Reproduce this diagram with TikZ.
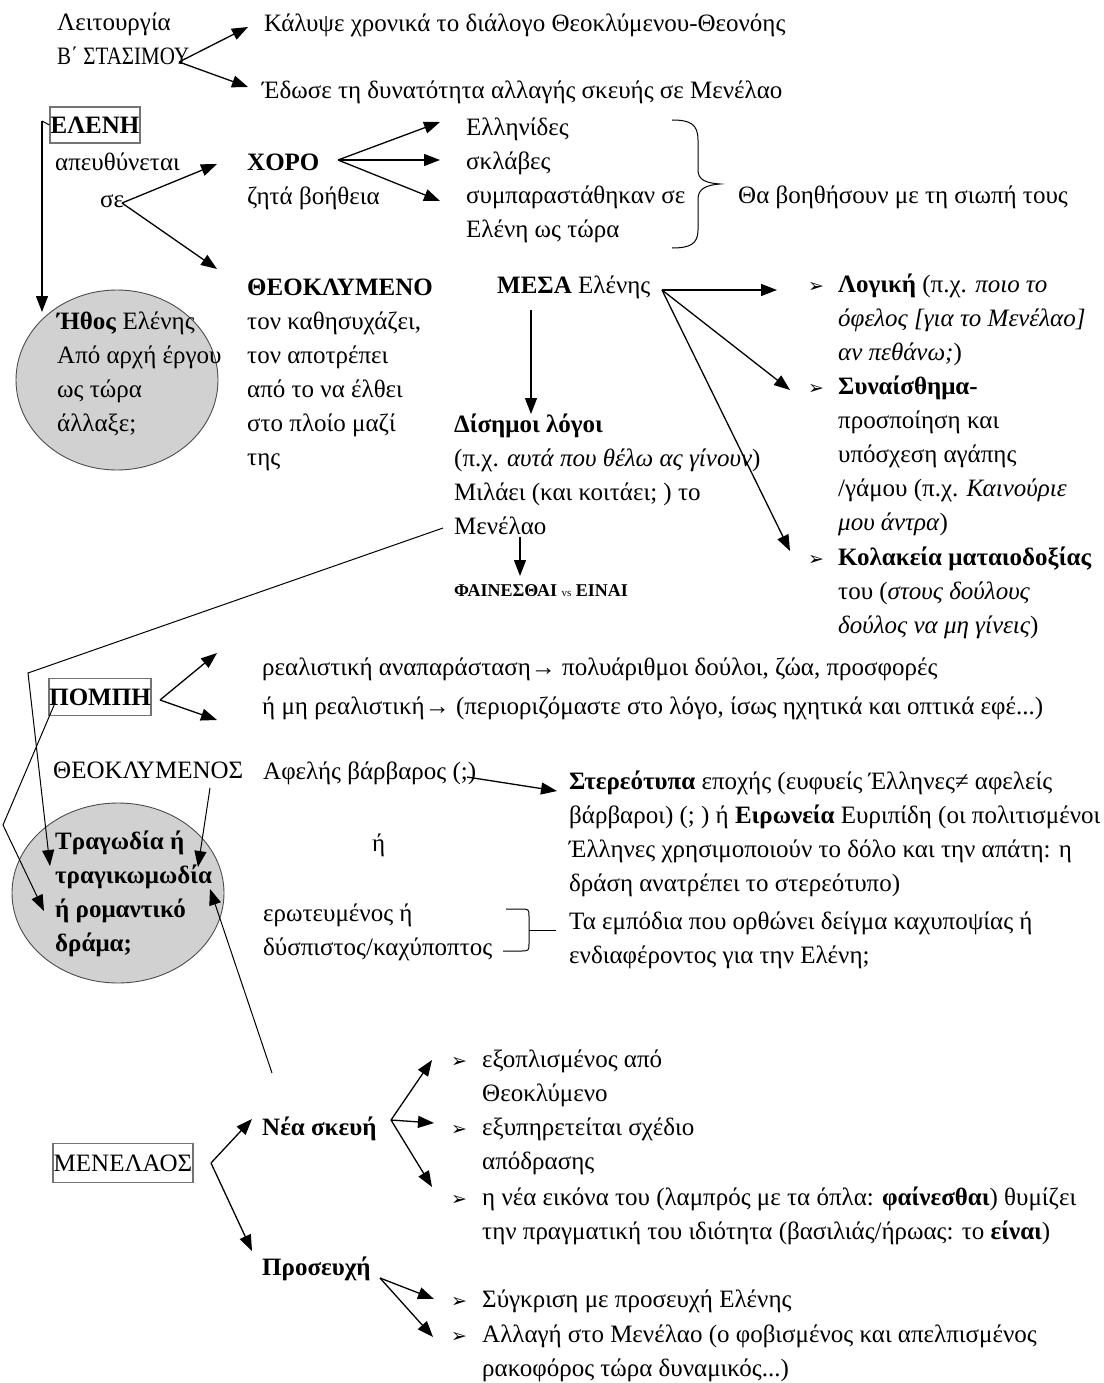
\documentclass[tikz,border=0pt]{standalone}
\usepackage{fontspec}
\setmainfont{Liberation Serif}
\newfontfamily\symfont{DejaVu Sans}
\usetikzlibrary{arrows.meta,shapes.geometric}

\newcommand\mainsize{\fontsize{25}{34}\selectfont}
\newcommand\smallsize{\fontsize{18}{34}\selectfont}
\newcommand\bulsize{\symfont\fontsize{19}{34}\selectfont}
% fixed-height strut so the first baseline sits 23.8pt below the node top
\newcommand\sr{\rule{0pt}{23.8pt}}

\begin{document}
\begin{tikzpicture}[x=1pt,y=-1pt,
  txt/.style={anchor=north west,inner sep=0pt,align=left,yshift=23.8pt,
              font=\mainsize,execute at begin node={\sr}},
  bul/.style={txt,font=\bulsize},
  framed/.style={draw=black!55,line width=1.5pt,inner xsep=0.5pt,inner ysep=0pt,
                 font=\mainsize},
  ell/.style={ellipse,draw=black!70,fill=black!18,line width=0.9pt,inner sep=0pt},
  arr/.style={-{Triangle[length=16pt,width=12pt]},line width=1.3pt},
  ln/.style={line width=1pt}]

\useasboundingbox (0,0) rectangle (1103,1383);
\fill[white] (0,0) rectangle (1103,1383);

% ---- shaded ellipses (drawn first, text sits on top) ----
\node[ell,minimum width=202pt,minimum height=180pt] (ethos) at (117,380) {};
\node[ell,minimum width=212pt,minimum height=180pt] (genre) at (118,893) {};

% ---- framed keywords ----
\node[framed,minimum width=80pt,minimum height=36pt] (eleni) at (95,125) {\textbf{ΕΛΕΝΗ}};
\node[framed,minimum width=94pt,minimum height=37pt] (pompi) at (100,697) {\textbf{ΠΟΜΠΗ}};
\node[framed,minimum width=134pt,minimum height=39pt] (men) at (123,1163) {ΜΕΝΕΛΑΟΣ};

% ---- text blocks ----
\node[txt] (lit) at (57,30) {\sr Λειτουργία\\\scalebox{0.84}[1]{Β΄ ΣΤΑΣΙΜΟΥ}};
\node[txt] (kal) at (264,31) {Κάλυψε χρονικά το διάλογο Θεοκλύμενου-Θεονόης};
\node[txt] (edo) at (262,98) {Έδωσε τη δυνατότητα αλλαγής σκευής σε Μενέλαο};
\node[txt] (apeuth) at (55,170) {απευθύνεται};
\node[txt] (se) at (100,207) {σε};
\node[txt] (xoro) at (247,170) {\sr\textbf{ΧΟΡΟ}\\ζητά βοήθεια};
\node[txt] (ellin) at (466,135) {\sr Ελληνίδες\\σκλάβες\\συμπαραστάθηκαν σε\\Ελένη ως τώρα};
\node[txt] (siopi) at (738,203) {Θα βοηθήσουν με τη σιωπή τους};
\node[txt] (theo) at (247,295) {\sr\textbf{ΘΕΟΚΛΥΜΕΝΟ}\\τον καθησυχάζει,\\τον αποτρέπει\\από το να έλθει\\στο πλοίο μαζί\\της};
\node[txt] (ethostxt) at (57,329) {\sr\textbf{Ήθος} Ελένης\\Από αρχή έργου\\ως τώρα\\άλλαξε;};
\node[txt] (mesa) at (497,293) {\textbf{ΜΕΣΑ} Ελένης};
\node[txt] (dis) at (454,432) {\sr\textbf{Δίσημοι λόγοι}\\(π.χ. \textit{αυτά που θέλω ας γίνουν})\\Μιλάει (και κοιτάει; ) το\\Μενέλαο};
\node[txt,font=\smallsize] (fain) at (454,596) {\textbf{ΦΑΙΝΕΣΘΑΙ} {\fontsize{11}{12}\selectfont vs} \textbf{ΕΙΝΑΙ}};

\node[bul] (b1) at (808,292) {➢};
\node[txt] (log) at (838,292) {\sr\textbf{Λογική} (π.χ. \textit{ποιο το}\\\textit{όφελος [για το Μενέλαο]}\\\textit{αν πεθάνω;})};
\node[bul] (b2) at (808,394) {➢};
\node[txt] (syn) at (838,394) {\sr\textbf{Συναίσθημα-}\\προσποίηση και\\υπόσχεση αγάπης\\/γάμου (π.χ. \textit{Καινούριε}\\\textit{μου άντρα})};
\node[bul] (b3) at (808,565) {➢};
\node[txt] (kol) at (838,565) {\sr\textbf{Κολακεία ματαιοδοξίας}\\του (\textit{στους δούλους}\\\textit{δούλος να μη γίνεις})};

\node[txt] (real) at (262,675) {\sr ρεαλιστική αναπαράσταση→ πολυάριθμοι δούλοι, ζώα, προσφορές\\[5pt]ή μη ρεαλιστική→ (περιοριζόμαστε στο λόγο, ίσως ηχητικά και οπτικά εφέ...)};
\node[txt] (theos) at (53,778) {ΘΕΟΚΛΥΜΕΝΟΣ};
\node[txt] (afel) at (263,779) {Αφελής βάρβαρος (;)};
\node[txt] (ster) at (569,789) {\sr\textbf{Στερεότυπα} εποχής (ευφυείς Έλληνες≠ αφελείς\\βάρβαροι) (; ) ή \textbf{Ειρωνεία} Ευριπίδη (οι πολιτισμένοι\\Έλληνες χρησιμοποιούν το δόλο και την απάτη: η\\δράση ανατρέπει το στερεότυπο)};
\node[txt] (i) at (372,851) {ή};
\node[txt] (erot) at (263,921) {\sr ερωτευμένος ή\\δύσπιστος/καχύποπτος};
\node[txt] (empod) at (569,929) {\sr Τα εμπόδια που ορθώνει δείγμα καχυποψίας ή\\ενδιαφέροντος για την Ελένη;};
\node[txt] (genretxt) at (55,849) {\sr\textbf{Τραγωδία ή}\\\textbf{τραγικωμωδία}\\\textbf{ή ρομαντικό}\\\textbf{δράμα;}};

\node[txt] (nea) at (262,1135) {\textbf{Νέα σκευή}};
\node[txt] (pros) at (262,1275) {\textbf{Προσευχή}};
\node[bul] (b4) at (451,1067) {➢};
\node[txt] (exo) at (482,1067) {\sr εξοπλισμένος από\\Θεοκλύμενο};
\node[bul] (b5) at (451,1135) {➢};
\node[txt] (exy) at (482,1135) {\sr εξυπηρετείται σχέδιο\\απόδρασης};
\node[bul] (b6) at (451,1205) {➢};
\node[txt] (eik) at (482,1205) {\sr η νέα εικόνα του (λαμπρός με τα όπλα: \textbf{φαίνεσθαι}) θυμίζει\\την πραγματική του ιδιότητα (βασιλιάς/ήρωας: το \textbf{είναι})};
\node[bul] (b7) at (451,1307) {➢};
\node[txt] (syg) at (482,1307) {Σύγκριση με προσευχή Ελένης};
\node[bul] (b8) at (451,1342) {➢};
\node[txt] (alla) at (482,1342) {\sr Αλλαγή στο Μενέλαο (ο φοβισμένος και απελπισμένος\\ρακοφόρος τώρα δυναμικός...)};

% ---- connector end points ----
\coordinate (litO) at (179,62);
\coordinate (kalT) at (248,27);
\coordinate (edoT) at (248,87);
\coordinate (elK) at (42,121);
\coordinate (ethT) at (42,312);
\coordinate (seO) at (122,203);
\coordinate (xoroT) at (217,164);
\coordinate (theoT) at (217,269);
\coordinate (xoroO) at (338,160);
\coordinate (x1) at (440,122);
\coordinate (x2) at (440,160);
\coordinate (x3) at (440,201);
\coordinate (mesaO) at (662,290);
\coordinate (m1) at (777,290);
\coordinate (m2) at (790,390);
\coordinate (m3) at (790,551);
\coordinate (mesaD) at (531,310);
\coordinate (disT) at (531,414);
\coordinate (menO) at (520,537);
\coordinate (fainT) at (520,576);
\coordinate (menL) at (443,528);
\coordinate (bendA) at (28,673);
\coordinate (gA) at (50,866);
\coordinate (pompiO) at (160,700);
\coordinate (p1) at (217,653);
\coordinate (p2) at (217,720);
\coordinate (pompiL) at (55,703);
\coordinate (bendB) at (3,825);
\coordinate (gB) at (44,911);
\coordinate (theosO) at (210,788);
\coordinate (gC) at (198,867);
\coordinate (afelO) at (467,777);
\coordinate (sterT) at (557,791);
\coordinate (sceneO) at (272,1073);
\coordinate (gD) at (210,889);
\coordinate (menO2) at (211,1163);
\coordinate (n1T) at (252,1119);
\coordinate (n2T) at (252,1251);
\coordinate (neaO) at (391,1120);
\coordinate (s1) at (432,1060);
\coordinate (s2) at (434,1123);
\coordinate (s3) at (432,1187);
\coordinate (prosO) at (380,1278);
\coordinate (r1) at (434,1299);
\coordinate (r2) at (433,1337);

% ---- connectors ----
\draw[arr] (litO) -- (kalT);
\draw[arr] (litO) -- (edoT);
\draw[ln] (eleni.west) -- (elK);
\draw[arr] (elK) -- (ethT);
\draw[arr] (seO) -- (xoroT);
\draw[arr] (seO) -- (theoT);
\draw[arr] (xoroO) -- (x1);
\draw[arr] (xoroO) -- (x2);
\draw[arr] (xoroO) -- (x3);
\draw[arr] (mesaO) -- (m1);
\draw[arr] (mesaO) -- (m2);
\draw[arr] (mesaO) -- (m3);
\draw[arr] (mesaD) -- (disT);
\draw[arr] (menO) -- (fainT);
\draw[arr,line width=1pt] (menL) -- (bendA) -- (gA);
\draw[arr] (pompiO) -- (p1);
\draw[arr] (pompiO) -- (p2);
\draw[arr,line width=1pt] (pompiL) -- (bendB) -- (gB);
\draw[arr,line width=1pt] (theosO) -- (gC);
\draw[arr] (afelO) -- (sterT);
\draw[arr,line width=1pt] (sceneO) -- (gD);
\draw[arr] (menO2) -- (n1T);
\draw[arr] (menO2) -- (n2T);
\draw[arr] (neaO) -- (s1);
\draw[arr] (neaO) -- (s2);
\draw[arr] (neaO) -- (s3);
\draw[arr] (prosO) -- (r1);
\draw[arr] (prosO) -- (r2);

% ---- curly brace grouping the chorus lines ----
\draw[ln] (672,120) .. controls (690,120) and (698,124) .. (698,140)
  -- (698,170) .. controls (698,180) and (706,183) .. (720,184)
  .. controls (706,185) and (698,189) .. (698,199)
  -- (698,230) .. controls (698,244) and (690,248) .. (672,248);

% ---- bracket joining the two adjectives ----
\draw[ln] (506,909) -- (520,909) .. controls (529,909) .. (529,917)
  -- (529,943) .. controls (529,951) .. (520,951) -- (503,951);
\draw[ln] (529,930) -- (556,930);

\end{tikzpicture}
\end{document}
